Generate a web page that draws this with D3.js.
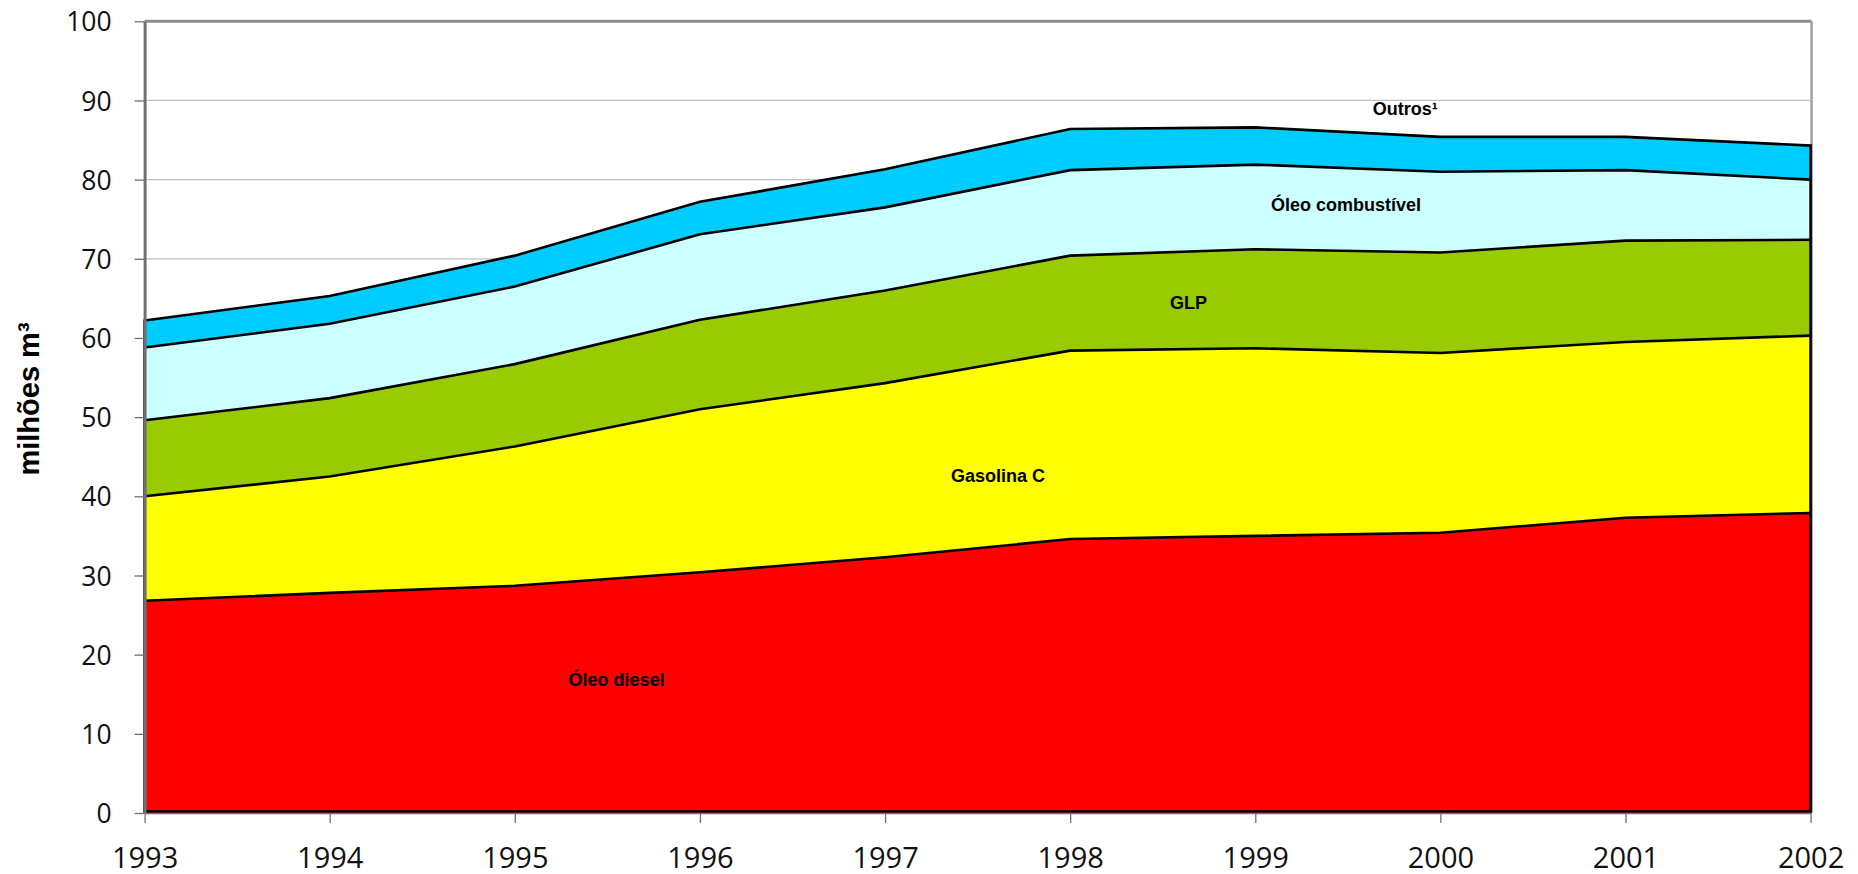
<!DOCTYPE html>
<html>
<head>
<meta charset="utf-8">
<script src="https://cdn.jsdelivr.net/npm/d3@7"></script>
<style>
  body { margin: 0; background: #fff; }
  svg { display: block; }
</style>
</head>
<body>
<script>
// years and stacked series (milhões m³)
var years = [1993, 1994, 1995, 1996, 1997, 1998, 1999, 2000, 2001, 2002];
var series = ["Óleo diesel", "Gasolina C", "GLP", "Óleo combustível", "Outros¹"];
var oleoDiesel      = [26.8, 27.8, 28.7, 30.4, 32.3, 34.6, 35.0, 35.4, 37.3, 37.9];
var gasolinaC       = [13.2, 14.7, 17.6, 20.6, 22.0, 23.8, 23.7, 22.7, 22.2, 22.4];
var glp             = [9.6, 9.9, 10.4, 11.3, 11.7, 12.0, 12.5, 12.7, 12.8, 12.1];
var oleoCombustivel = [9.2, 9.4, 9.8, 10.8, 10.5, 10.8, 10.7, 10.2, 8.9, 7.6];
var outros          = [3.4, 3.5, 3.9, 4.1, 4.8, 5.2, 4.7, 4.4, 4.2, 4.3];
var colors = ["#ff0000", "#ffff00", "#99cc00", "#ccffff", "#00ccff"];
var yTicks = [0, 10, 20, 30, 40, 50, 60, 70, 80, 90, 100];

var w = 1858, h = 874;
var padLeft = 144.6, padRight = 1810.6, padTop = 21.3, padBottom = 813;
var tickFont = "'Open Sans', 'DejaVu Sans', sans-serif";
var labelFont = "'Liberation Sans', Arial, sans-serif";

var table = years.map(function (yr, i) {
  var row = { year: yr };
  row[series[0]] = oleoDiesel[i];
  row[series[1]] = gasolinaC[i];
  row[series[2]] = glp[i];
  row[series[3]] = oleoCombustivel[i];
  row[series[4]] = outros[i];
  return row;
});

var stacked = d3.stack().keys(series)(table);

var svg = d3.select("body").append("svg")
  .attr("width", w)
  .attr("height", h);

var x = d3.scaleLinear().domain([1993, 2002]).range([padLeft, padRight]);
var y = d3.scaleLinear().domain([0, 100]).range([padBottom, padTop]);

// gridlines
svg.append("g").selectAll("line")
  .data(yTicks.slice(1, -1))
  .enter().append("line")
  .attr("x1", padLeft).attr("x2", padRight)
  .attr("y1", function (d) { return y(d); })
  .attr("y2", function (d) { return y(d); })
  .attr("stroke", "#c0c0c0")
  .attr("stroke-width", 1.3);

// plot border top / right
svg.append("line")
  .attr("x1", padLeft).attr("x2", padRight + 1)
  .attr("y1", y(100)).attr("y2", y(100))
  .attr("stroke", "#8c8c8c").attr("stroke-width", 3);
svg.append("line")
  .attr("x1", padRight + 1).attr("x2", padRight + 1)
  .attr("y1", y(100)).attr("y2", padBottom)
  .attr("stroke", "#a0a0a0").attr("stroke-width", 2.5);

var area = d3.area()
  .x(function (d) { return x(d.data.year); })
  .y0(function (d) { return y(d[0]); })
  .y1(function (d) { return y(d[1]); });

var topLine = d3.line()
  .x(function (d) { return x(d.data.year); })
  .y(function (d) { return y(d[1]); });

svg.append("g").selectAll("path")
  .data(stacked)
  .enter().append("path")
  .attr("d", area)
  .attr("fill", function (d, i) { return colors[i]; })
  .attr("stroke", "none");

// outline of the whole stack
svg.append("path")
  .attr("d", d3.area()
    .x(function (d) { return x(d.data.year); })
    .y0(y(0) - 1.5)
    .y1(function (d) { return y(d[1]); })(stacked[stacked.length - 1]))
  .attr("fill", "none")
  .attr("stroke", "#000")
  .attr("stroke-width", 2.6);

svg.append("g").selectAll("path")
  .data(stacked.slice(0, -1))
  .enter().append("path")
  .attr("d", topLine)
  .attr("fill", "none")
  .attr("stroke", "#000")
  .attr("stroke-width", 2.6);

// axes
var yAxis = d3.axisLeft(y).tickValues(yTicks).tickSize(10).tickSizeOuter(0);
var gy = svg.append("g")
  .attr("transform", "translate(" + padLeft + ",0)")
  .call(yAxis);
gy.select(".domain").attr("stroke", "#707070").attr("stroke-width", 3);
gy.selectAll(".tick line").attr("stroke", "#707070").attr("stroke-width", 1.3);
gy.selectAll(".tick text")
  .attr("x", -33)
  .attr("dy", "0.36em")
  .attr("fill", "#111")
  .style("font-family", tickFont)
  .style("font-size", "26.5px");

var xAxis = d3.axisBottom(x).tickValues(years).tickFormat(d3.format("d")).tickSize(10).tickSizeOuter(0);
var gx = svg.append("g")
  .attr("transform", "translate(0," + padBottom + ")")
  .call(xAxis);
gx.select(".domain").attr("stroke", "#707070").attr("stroke-width", 1.3);
gx.selectAll(".tick line").attr("stroke", "#707070").attr("stroke-width", 1.3);
gx.selectAll(".tick text")
  .attr("y", 55)
  .attr("dy", 0)
  .attr("fill", "#111")
  .style("font-family", tickFont)
  .style("font-size", "29px");

// y title
svg.append("text")
  .attr("transform", "translate(39," + 399 + ") rotate(-90)")
  .attr("text-anchor", "middle")
  .style("font-family", labelFont)
  .style("font-size", "29px")
  .style("font-weight", "bold")
  .text("milhões m³");

// series labels
var labelPos = [
  { yr: 1995.55, v: 16.9 },
  { yr: 1997.61, v: 42.6 },
  { yr: 1998.64, v: 64.4 },
  { yr: 1999.49, v: 76.8 },
  { yr: 1999.81, v: 88.9 }
];
svg.append("g").selectAll("text")
  .data(series)
  .enter().append("text")
  .attr("x", function (d, i) { return x(labelPos[i].yr); })
  .attr("y", function (d, i) { return y(labelPos[i].v); })
  .attr("text-anchor", "middle")
  .attr("dy", "0.35em")
  .style("font-family", labelFont)
  .style("font-size", "18px")
  .style("font-weight", "bold")
  .text(function (d) { return d; });
</script>
</body>
</html>
